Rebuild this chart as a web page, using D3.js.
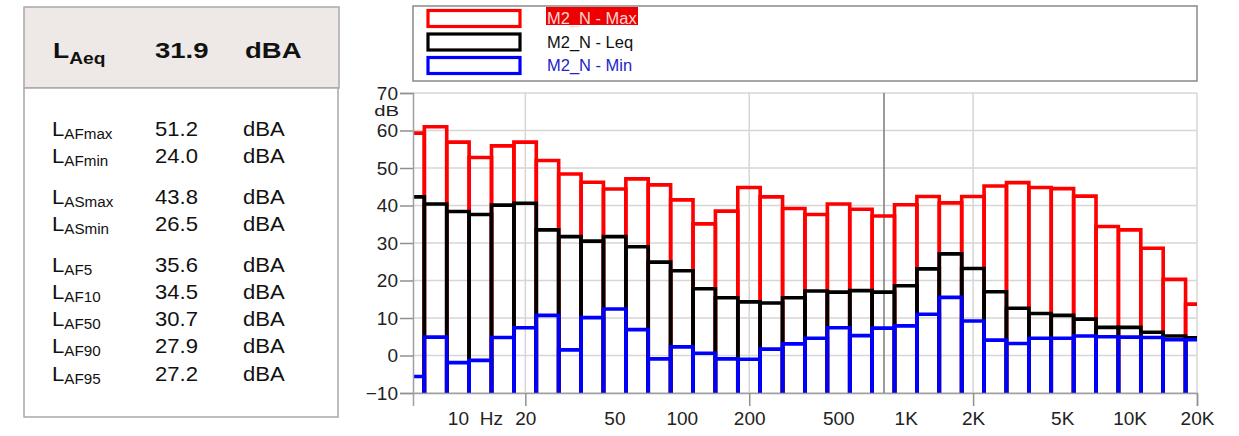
<!DOCTYPE html>
<html>
<head>
<meta charset="utf-8">
<script src="https://cdn.jsdelivr.net/npm/d3@7"></script>
<style>
  body { margin: 0; background: #fff; }
  svg { display: block; font-family: "Liberation Sans", Arial, sans-serif; }
</style>
</head>
<body>
<svg id="chart" width="1239" height="436"></svg>
<script>
// third-octave bands (Hz) shown in the spectrum
const bands = [6.3, 8, 10, 12.5, 16, 20, 25, 31.5, 40, 50, 63, 80, 100, 125, 160, 200, 250, 315, 400, 500,
  630, 800, 1000, 1250, 1600, 2000, 2500, 3150, 4000, 5000, 6300, 8000, 10000, 12500, 16000, 20000];

const maxLevels = [59.3, 61, 56.9, 52.8, 55.9, 56.9, 52, 48.4, 46.2, 44.4, 47.1, 45.5, 41.5, 35.1, 38.5, 44.8, 42.3, 39.2, 37.6, 40.4,
  39, 37.2, 40.2, 42.4, 40.7, 42.4, 45.2, 46.1, 44.8, 44.5, 42.5, 34.4, 33.5, 28.6, 20.3, 13.7];
const leqLevels = [42.3, 40.4, 38.4, 37.6, 40.1, 40.6, 33.5, 31.7, 30.5, 31.7, 29, 24.9, 22.6, 17.8, 15.4, 14.3, 14, 15.4, 17.2, 16.9,
  17.3, 16.9, 18.6, 23.1, 27.1, 23.2, 17, 12.6, 11.2, 10.7, 9.7, 7.5, 7.5, 6.2, 5.2, 4.7];
const minLevels = [-5.6, 4.9, -1.9, -1.3, 4.8, 7.4, 10.7, 1.5, 10.1, 12.4, 6.9, -0.9, 2.3, 0.6, -0.9, -1, 1.7, 3.1, 4.6, 7.4,
  5.3, 7.3, 7.9, 11, 15.5, 9.2, 4.1, 3.2, 4.6, 4.6, 5.2, 5, 4.9, 4.8, 4.2, 4.2];

const seriesNames = ['M2_N - Max', 'M2_N - Leq', 'M2_N - Min'];

const yTicks = [-10, 0, 10, 20, 30, 40, 50, 60, 70];
const xTickValues = [10, 20, 50, 100, 200, 500, 1000, 2000, 5000, 10000, 20000];
const xTickLabels = ['10', '20', '50', '100', '200', '500', '1K', '2K', '5K', '10K', '20K'];
const xMajor = [20, 200, 2000, 20000];
const cursorFreq = 800;

// summary panel
const leqTitle = {sub: 'Aeq', value: '31.9', unit: 'dBA'};
const statNames = ['AFmax', 'AFmin', 'ASmax', 'ASmin', 'AF5', 'AF10', 'AF50', 'AF90', 'AF95'];
const statValues = ['51.2', '24.0', '43.8', '26.5', '35.6', '34.5', '30.7', '27.9', '27.2'];
const statGroups = [0, 0, 1, 1, 2, 2, 2, 2, 2];

const svg = d3.select('#chart');

// ---- left panel
svg.append('rect').attr('x', 24).attr('y', 7).attr('width', 315).attr('height', 81)
  .attr('fill', '#eee9e6').attr('stroke', '#a8a8a8').attr('stroke-width', 1.5);
svg.append('rect').attr('x', 24).attr('y', 88).attr('width', 314).attr('height', 329)
  .attr('fill', '#fff').attr('stroke', '#a8a8a8').attr('stroke-width', 1.5);

function stretched(px, py, sx) {
  return 'translate(' + px + ',' + py + ') scale(' + sx + ',1)';
}

let head = svg.append('g').attr('font-weight', 'bold').attr('fill', '#111');
let lt = head.append('text').attr('transform', stretched(53, 58, 1.2)).attr('font-size', 22);
lt.append('tspan').text('L');
lt.append('tspan').attr('font-size', 16).attr('dy', 6).text(leqTitle.sub);
head.append('text').attr('transform', stretched(155, 58, 1.25)).attr('font-size', 22).text(leqTitle.value);
head.append('text').attr('transform', stretched(245, 58, 1.25)).attr('font-size', 22).text(leqTitle.unit);

let rows = svg.append('g').attr('fill', '#111');
statNames.forEach((name, i) => {
  let ry = 136 + i * 27.2 + statGroups[i] * 13.5;
  let t = rows.append('text').attr('transform', stretched(52, ry, 1.05)).attr('font-size', 21);
  t.append('tspan').text('L');
  t.append('tspan').attr('font-size', 14.5).attr('dy', 3).text(name);
  rows.append('text').attr('transform', stretched(155, ry, 1.05)).attr('font-size', 21).text(statValues[i]);
  rows.append('text').attr('transform', stretched(243, ry, 1.05)).attr('font-size', 21).text('dBA');
});

// ---- legend
const colors = ['#ff0000', '#000000', '#0000ff'];
svg.append('rect').attr('x', 413).attr('y', 6).attr('width', 784).attr('height', 75)
  .attr('fill', '#fff').attr('stroke', '#888').attr('stroke-width', 1.5);
const legY = [18.5, 42, 65.5];
seriesNames.forEach((name, i) => {
  svg.append('rect').attr('x', 428).attr('y', legY[i] - 8).attr('width', 92).attr('height', 16)
    .attr('fill', 'none').attr('stroke', colors[i]).attr('stroke-width', 3.2);
  if (i === 0) {
    svg.append('rect').attr('x', 546).attr('y', 7).attr('width', 92).attr('height', 18).attr('fill', '#ee0000');
  }
  svg.append('text').attr('transform', stretched(547, legY[i] + 5.5, 1.03)).attr('font-size', 16)
    .attr('fill', i === 0 ? '#f6d6d6' : (i === 1 ? '#111' : '#2323c8')).text(name);
});

// ---- spectrum
const plotLeft = 413, plotRight = 1197, plotTop = 93, plotBottom = 393;
let x = d3.scaleLog().domain([6.3, 20000]).range([plotLeft, plotRight]);
let y = d3.scaleLinear().domain([-10, 70]).range([plotBottom, plotTop]);

let plot = svg.append('g');

// grid
plot.append('g').selectAll('line').data(yTicks).enter().append('line')
  .attr('x1', plotLeft).attr('x2', plotRight).attr('y1', d => y(d)).attr('y2', d => y(d))
  .attr('stroke', '#d6d6d6').attr('stroke-width', 1.5);
plot.append('g').selectAll('line').data(xMajor).enter().append('line')
  .attr('x1', d => x(d)).attr('x2', d => x(d)).attr('y1', plotTop).attr('y2', plotBottom)
  .attr('stroke', '#d6d6d6').attr('stroke-width', 1.5);

// cursor
plot.append('line').attr('x1', x(cursorFreq)).attr('x2', x(cursorFreq)).attr('y1', plotTop).attr('y2', plotBottom)
  .attr('stroke', '#7a7a7a').attr('stroke-width', 1.5);

svg.append('clipPath').attr('id', 'plotClip').append('rect')
  .attr('x', plotLeft).attr('y', 60).attr('width', plotRight - plotLeft).attr('height', plotBottom - 60);

// exact base-10 band centre, edges at +-1/20 decade
function edges(f) {
  let c = Math.pow(10, Math.round(10 * Math.log10(f)) / 10);
  return [c * Math.pow(10, -0.05), c * Math.pow(10, 0.05)];
}

let bars = plot.append('g').attr('clip-path', 'url(#plotClip)');
[maxLevels, leqLevels, minLevels].forEach((levels, s) => {
  bars.append('g').selectAll('path').data(bands).enter().append('path')
    .attr('d', (f, i) => {
      let e = edges(f);
      return 'M' + x(e[0]) + ',' + (plotBottom + 4) + 'V' + y(levels[i]) + 'H' + x(e[1]) + 'V' + (plotBottom + 4);
    })
    .attr('fill', 'none').attr('stroke', colors[s]).attr('stroke-width', 3.6)
    .attr('stroke-linejoin', 'miter');
});

// axes
let yAxis = plot.append('g').attr('transform', 'translate(' + plotLeft + ',0)')
  .call(d3.axisLeft(y).tickValues(yTicks).tickSize(13).tickPadding(2).tickFormat(d3.format('d')));
yAxis.attr('font-family', null);
yAxis.select('.domain').attr('stroke', '#a0a0a0').attr('stroke-width', 1.5);
yAxis.selectAll('.tick line').attr('stroke', '#909090').attr('stroke-width', 1.5);
yAxis.selectAll('.tick text').attr('font-size', 19).attr('fill', '#222');

// unit label squeezed between the 70 and 60 labels
plot.append('text').attr('transform', stretched(399, 116.3, 1.4)).attr('text-anchor', 'end')
  .attr('font-size', 14.5).attr('fill', '#222').text('dB');

let xAxis = plot.append('g').attr('transform', 'translate(0,' + plotBottom + ')')
  .call(d3.axisBottom(x).tickValues(xTickValues).tickSize(13)
    .tickFormat((d, i) => xTickLabels[i]));
xAxis.attr('font-family', null);
xAxis.select('.domain').attr('stroke', '#a0a0a0').attr('stroke-width', 1.5);
xAxis.selectAll('.tick line').attr('stroke', '#909090').attr('stroke-width', 1.5)
  .attr('y2', d => xMajor.includes(d) ? 13 : 0);
xAxis.selectAll('.tick text').attr('font-size', 19).attr('fill', '#222')
  .attr('y', 32).attr('dy', null);
xAxis.append('text').attr('x', x(14.1)).attr('y', 32).attr('text-anchor', 'middle')
  .attr('font-size', 19).attr('fill', '#222').text('Hz');
</script>
</body>
</html>
